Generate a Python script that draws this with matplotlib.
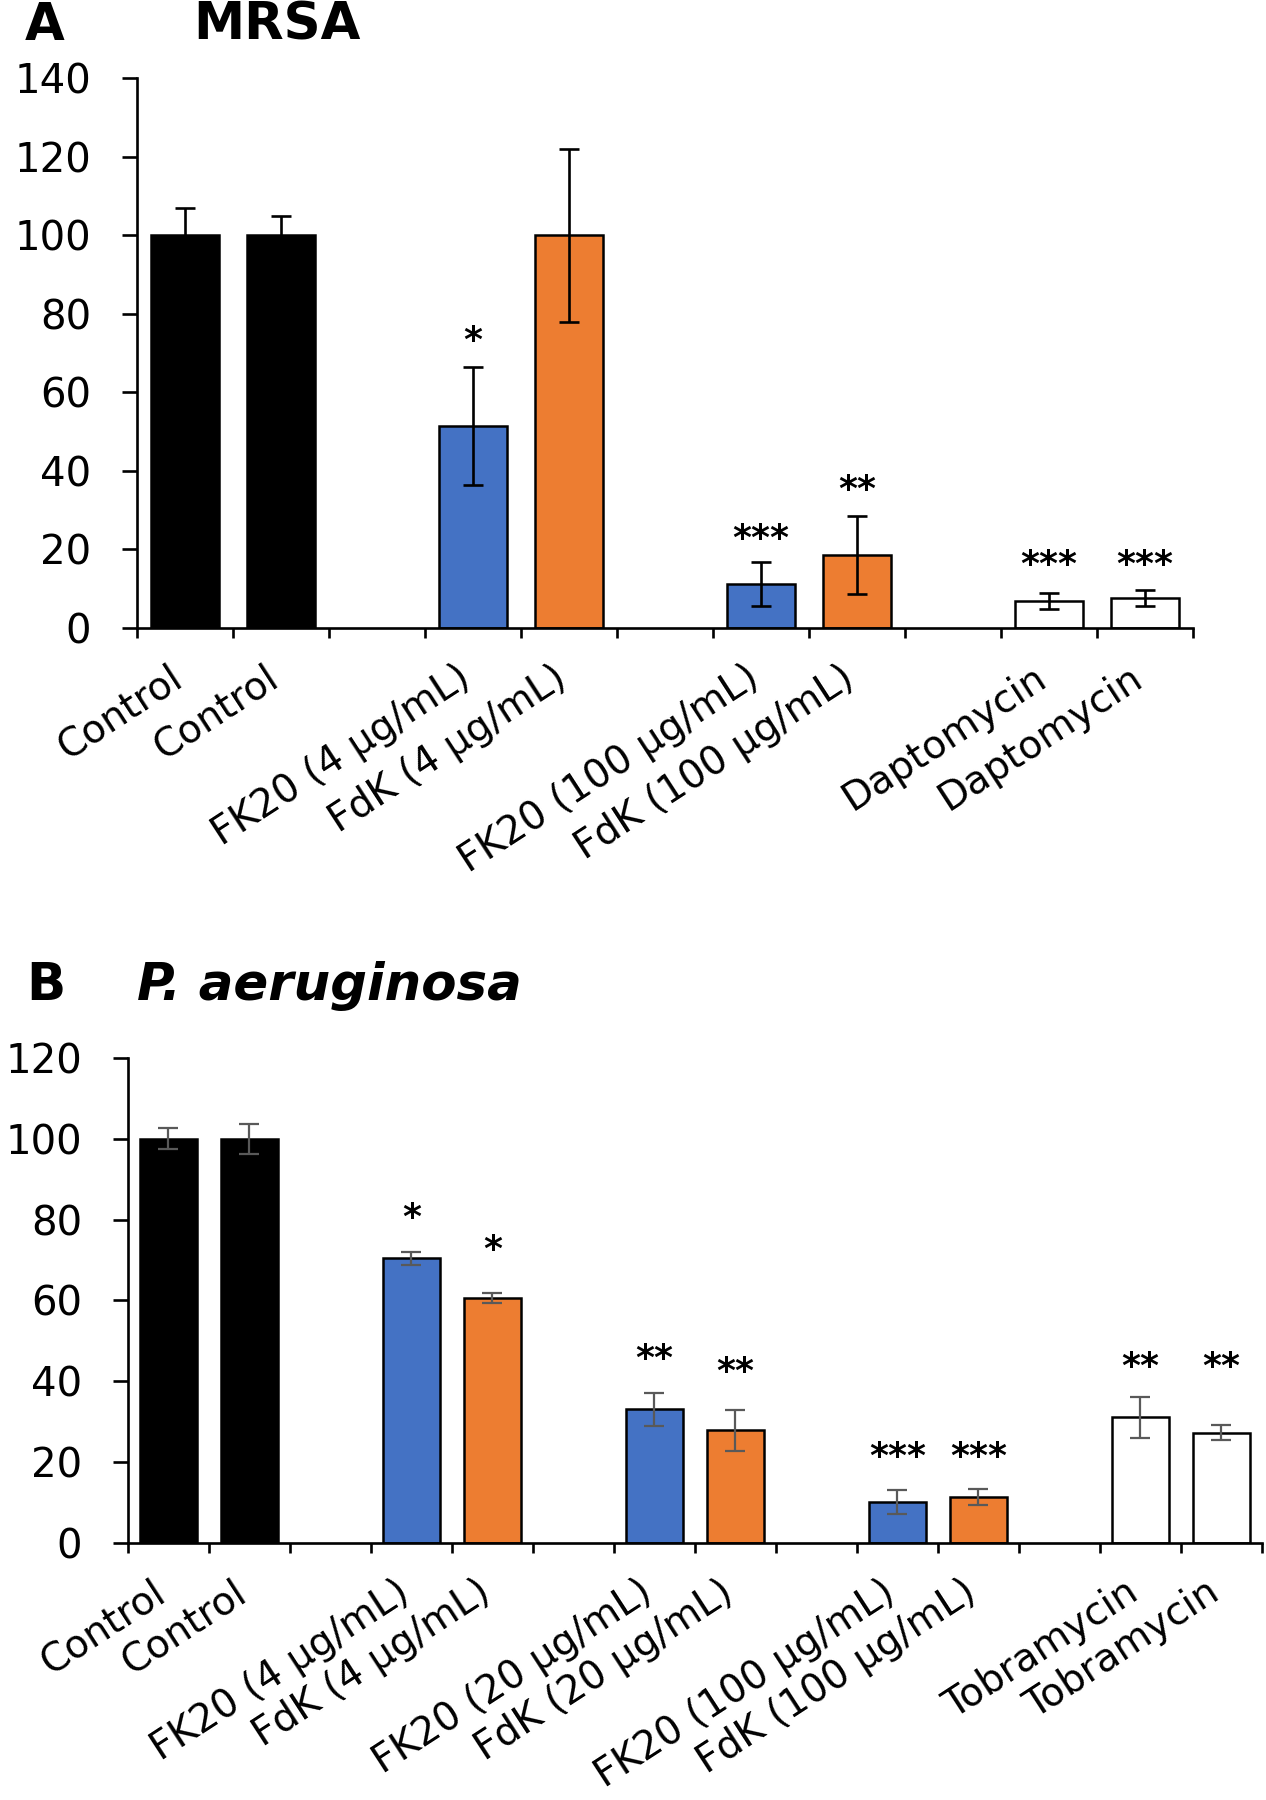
import numpy as np
import matplotlib.pyplot as plt

plt.rcParams['font.family'] = ['DejaVu Sans']

BLUE = "#4472C4"
ORANGE = "#ED7D31"

# Panel A: MRSA (empty strings are the gaps between groups)
labels_a = ["Control", "Control", "", "FK20 (4 μg/mL)", "FdK (4 μg/mL)", "",
            "FK20 (100 μg/mL)", "FdK (100 μg/mL)", "", "Daptomycin", "Daptomycin"]
values_a = [100, 100, None, 51.5, 100, None, 11.2, 18.6, None, 6.8, 7.6]
errors_a = [7, 5, None, 15, 22, None, 5.5, 10, None, 2, 2]
colors_a = ["black", "black", None, BLUE, ORANGE, None, BLUE, ORANGE, None, "white", "white"]
stars_a = ["", "", "", "*", "", "", "***", "**", "", "***", "***"]
star_y_a = [None, None, None, 74.6, None, None, 24, 36.5, None, 17.5, 17.5]

# Panel B: P. aeruginosa
labels_b = ["Control", "Control", "", "FK20 (4 μg/mL)", "FdK (4 μg/mL)", "",
            "FK20 (20 μg/mL)", "FdK (20 μg/mL)", "", "FK20 (100 μg/mL)",
            "FdK (100 μg/mL)", "", "Tobramycin", "Tobramycin"]
values_b = [100, 100, None, 70.4, 60.6, None, 33, 27.8, None, 10, 11.3, None, 31, 27.2]
errors_b = [2.6, 3.8, None, 1.6, 1.3, None, 4, 5, None, 3, 2.1, None, 5, 1.9]
colors_b = ["black", "black", None, BLUE, ORANGE, None, BLUE, ORANGE, None,
            BLUE, ORANGE, None, "white", "white"]
stars_b = ["", "", "", "*", "*", "", "**", "**", "", "***", "***", "", "**", "**"]
star_y_b = [None, None, None, 81.9, 73.9, None, 46.8, 43.7, None, 22.5, 22.5, None, 44.9, 44.9]


def draw_panel(ax, labels, values, errors, colors, stars, star_y, ymax, err_color, err_lw):
    n = len(labels)
    idx = [i for i in range(n) if values[i] is not None]
    x = np.array(idx)
    v = np.array([values[i] for i in idx])
    e = np.array([errors[i] for i in idx])
    c = [colors[i] for i in idx]

    ax.bar(x, v, width=0.7, color=c, edgecolor="black", linewidth=1.8, zorder=2)
    ax.errorbar(x, v, yerr=e, fmt="none", ecolor=err_color, elinewidth=err_lw,
                capsize=7, capthick=err_lw, zorder=3)

    for i in range(n):
        if stars[i]:
            ax.annotate(stars[i], (i, star_y[i]), xytext=(0, -4), textcoords="offset points",
                        ha="center", va="center", fontsize=26, fontweight="bold")

    ax.set_xlim(-0.5, n - 0.5)
    ax.set_ylim(0, ymax)
    ax.set_yticks(np.arange(0, ymax + 1, 20))
    ax.set_xticks(np.arange(n), labels, rotation=33, ha="right", va="baseline",
                  rotation_mode="anchor")
    ax.set_xticks(np.arange(n + 1) - 0.5, minor=True)
    ax.tick_params(axis="x", which="major", length=0, pad=40, labelsize=28)
    ax.tick_params(axis="x", which="minor", length=7, width=1.9, direction="out")
    ax.tick_params(axis="y", length=11, width=1.9, pad=22, labelsize=29)

    for side in ["top", "right"]:
        ax.spines[side].set_visible(False)
    for side in ["left", "bottom"]:
        ax.spines[side].set_linewidth(1.9)


def main():
    fig = plt.figure(figsize=(12.66, 18), dpi=100)

    ax_a = fig.add_axes([0.1082, 0.6511, 0.8341, 0.3054])
    draw_panel(ax_a, labels_a, values_a, errors_a, colors_a, stars_a, star_y_a,
               140, "black", 1.9)

    ax_b = fig.add_axes([0.1011, 0.1430, 0.8957, 0.2691])
    draw_panel(ax_b, labels_b, values_b, errors_b, colors_b, stars_b, star_y_b,
               120, "#595959", 1.6)

    fig.text(0.0198, 0.9856, "A", fontsize=37, fontweight="bold", va="center")
    fig.text(0.153, 0.9856, "MRSA", fontsize=37, fontweight="bold", va="center")
    fig.text(0.021, 0.4522, "B", fontsize=37, fontweight="bold", va="center")
    fig.text(0.108, 0.4522, "P. aeruginosa", fontsize=37, fontweight="bold",
             fontstyle="italic", va="center")

    fig.savefig("out.png", dpi=100)


if __name__ == '__main__':
    main()
